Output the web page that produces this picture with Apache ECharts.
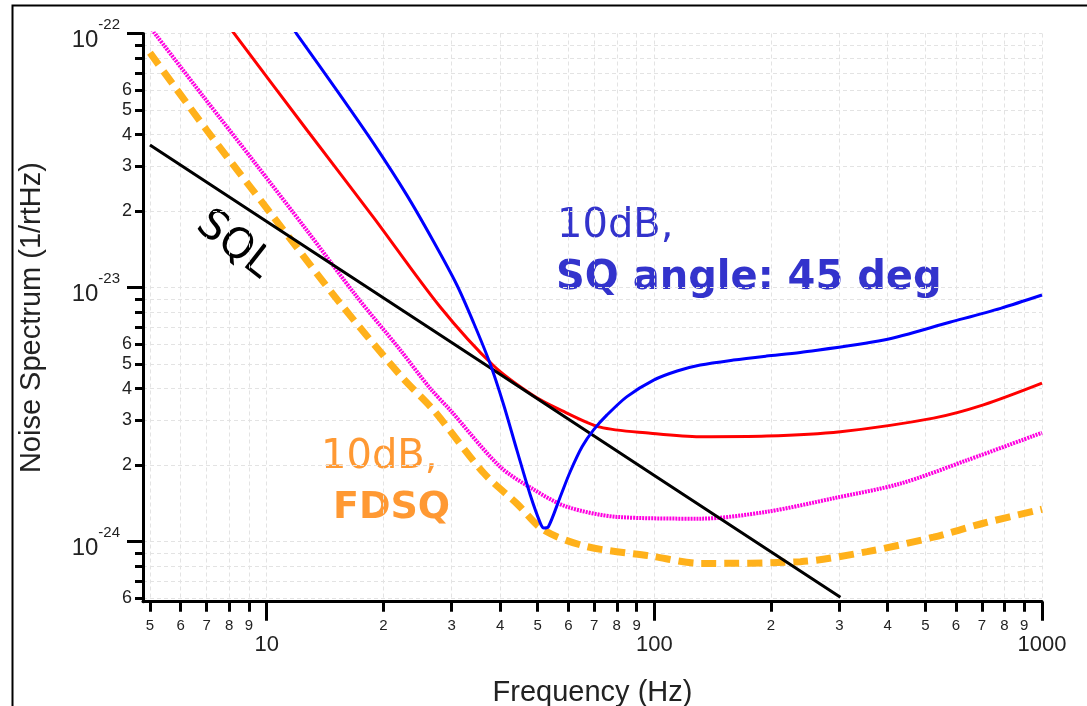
<!DOCTYPE html>
<html><head><meta charset="utf-8">
<script src="https://cdn.jsdelivr.net/npm/echarts@6/dist/echarts.min.js"></script>
<style>html,body{margin:0;padding:0;background:#fff}#c{width:1087px;height:706px}</style>
</head><body><div id="c"></div>
<script>
// ---- Data: frequency (Hz) and noise spectrum (1/rtHz) ----
const sqlFreq  = [5, 10, 30, 100, 302];
const sqlNoise = [3.64e-23, 1.82e-23, 6.07e-24, 1.82e-24, 6.03e-25];

const redFreq  = [8.0, 12.7, 18.9, 28.0, 38.5, 48.7, 57.2, 72.5, 97.7, 131, 195, 302, 525, 706, 1000];
const redNoise = [1.063e-22, 4.17e-23, 1.88e-23, 8.4e-24, 4.92e-24, 3.76e-24, 3.30e-24, 2.82e-24, 2.67e-24, 2.585e-24, 2.6e-24, 2.705e-24, 3.06e-24, 3.45e-24, 4.20e-24];

const blueFreq  = [11.5, 11.96, 15.46, 18.85, 22.99, 26.9, 30.95, 34.2, 37.73, 40.8, 44.2, 47.86, 50.8, 51.9, 53.3, 57.2, 60.7, 65.1, 69.7, 75.5, 85.0, 99.6, 114.5, 131.4, 159.9, 194.6, 238, 391, 581, 782, 1000];
const blueNoise = [1.09e-22, 9.95e-23, 5.73e-23, 3.70e-23, 2.31e-23, 1.524e-23, 1.023e-23, 7.25e-24, 5.00e-24, 3.48e-24, 2.29e-24, 1.524e-24, 1.182e-24, 1.13e-24, 1.143e-24, 1.501e-24, 1.886e-24, 2.36e-24, 2.75e-24, 3.15e-24, 3.72e-24, 4.32e-24, 4.69e-24, 4.95e-24, 5.18e-24, 5.37e-24, 5.55e-24, 6.21e-24, 7.31e-24, 8.28e-24, 9.34e-24];

const pinkFreq  = [5, 6.87, 9.35, 12.69, 17.08, 22.1, 26.4, 29.7, 40.0, 48.9, 59.5, 80.1, 131.4, 195.4, 290, 431, 641, 1000];
const pinkNoise = [1.06e-22, 5.64e-23, 3.08e-23, 1.68e-23, 9.2e-24, 5.68e-24, 4.01e-24, 3.30e-24, 1.97e-24, 1.60e-24, 1.37e-24, 1.25e-24, 1.23e-24, 1.31e-24, 1.48e-24, 1.69e-24, 2.09e-24, 2.68e-24];

const orangeFreq  = [5, 7.0, 10.4, 15.47, 22.3, 26.9, 36.3, 44.2, 51.8, 67.0, 97.7, 131.4, 238, 354, 525, 706, 1000];
const orangeNoise = [8.4e-23, 4.17e-23, 1.90e-23, 8.67e-24, 4.45e-24, 3.30e-24, 1.86e-24, 1.41e-24, 1.11e-24, 9.55e-25, 8.77e-25, 8.2e-25, 8.33e-25, 9.12e-25, 1.04e-24, 1.18e-24, 1.34e-24];

// ---- Tick values ----
const xMinorTicks = [5, 6, 7, 8, 9, 20, 30, 40, 50, 60, 70, 80, 90, 200, 300, 400, 500, 600, 700, 800, 900];
const xMajorTicks = [10, 100, 1000];
const yMinorTicks = [6e-25, 7e-25, 8e-25, 9e-25,
  2e-24, 3e-24, 4e-24, 5e-24, 6e-24, 7e-24, 8e-24, 9e-24,
  2e-23, 3e-23, 4e-23, 5e-23, 6e-23, 7e-23, 8e-23, 9e-23];
const yMinorLabelTicks = [6e-25, 2e-24, 3e-24, 4e-24, 5e-24, 6e-24, 2e-23, 3e-23, 4e-23, 5e-23, 6e-23];
const yMajorTicks = [1e-24, 1e-23, 1e-22];

const L = Math.log10;
const toPts = (fs, vs) => fs.map((f, i) => [L(f), L(vs[i])]);

const X_MIN = 0.681, X_MAX = 3, Y_MIN = -24.237, Y_MAX = -22;
const FONT = 'Liberation Sans, Arial, sans-serif';
const gridLine = { show: true, lineStyle: { color: '#e3e3e3', type: [4, 3], width: 1 } };

function mant(v) { const e = Math.floor(v + 1e-9); return Math.round(Math.pow(10, v - e)); }

const chart = echarts.init(document.getElementById('c'), null, { renderer: 'canvas' });
chart.setOption({
  animation: false,
  backgroundColor: '#fff',
  grid: { left: 143, right: 45, top: 33.5, bottom: 104.3, containLabel: false, outerBoundsMode: 'none' },
  xAxis: [
    { type: 'value', min: X_MIN, max: X_MAX, position: 'bottom',
      name: 'Frequency (Hz)', nameLocation: 'middle', nameGap: 77,
      nameTextStyle: { fontSize: 29, fontFamily: FONT, color: '#222' },
      axisLine: { show: true, onZero: false, lineStyle: { color: '#000', width: 3 } },
      axisTick: { show: true, length: 10, customValues: xMinorTicks.map(L), lineStyle: { color: '#000', width: 3 } },
      axisLabel: { show: true, customValues: xMinorTicks.map(L), margin: 17, fontSize: 15, fontFamily: FONT, color: '#222',
        formatter: v => String(mant(v)) },
      splitLine: gridLine },
    { type: 'value', min: X_MIN, max: X_MAX, position: 'bottom',
      axisLine: { show: false, onZero: false },
      axisTick: { show: true, length: 19, customValues: xMajorTicks.map(L), lineStyle: { color: '#000', width: 3 } },
      axisLabel: { show: true, customValues: xMajorTicks.map(L), margin: 32, fontSize: 22, fontFamily: FONT, color: '#222',
        formatter: v => String(Math.round(Math.pow(10, v))) },
      splitLine: gridLine }
  ],
  yAxis: [
    { type: 'value', min: Y_MIN, max: Y_MAX, position: 'left',
      name: 'Noise Spectrum (1/rtHz)', nameLocation: 'middle', nameGap: 97,
      nameTextStyle: { fontSize: 29, fontFamily: FONT, color: '#222' },
      axisLine: { show: true, onZero: false, lineStyle: { color: '#000', width: 3 } },
      axisTick: { show: true, length: 8, customValues: yMinorTicks.map(L), lineStyle: { color: '#000', width: 3 } },
      axisLabel: { show: true, customValues: yMinorLabelTicks.map(L), margin: 11, fontSize: 18, fontFamily: FONT, color: '#222',
        formatter: v => String(mant(v)) },
      splitLine: gridLine },
    { type: 'value', min: Y_MIN, max: Y_MAX, position: 'left',
      axisLine: { show: false, onZero: false },
      axisTick: { show: true, length: 16, customValues: yMajorTicks.map(L), lineStyle: { color: '#000', width: 3 } },
      axisLabel: { show: true, customValues: yMajorTicks.map(L), margin: 23,
        formatter: v => '{b|10}{s|' + Math.round(v) + '}',
        rich: {
          b: { fontSize: 24, fontFamily: FONT, color: '#222', padding: [14, 0, 0, 0], verticalAlign: 'bottom' },
          s: { fontSize: 15, fontFamily: FONT, color: '#222', padding: [3, 0, 0, 0], verticalAlign: 'top' }
        } },
      splitLine: gridLine }
  ],
  series: [
    { name: '10dB FDSQ', type: 'line', xAxisIndex: 0, yAxisIndex: 0, showSymbol: false, smooth: 0.3, clip: true,
      data: toPts(orangeFreq, orangeNoise),
      lineStyle: { color: '#ffb11b', width: 7, type: [15, 8], cap: 'butt' }, z: 2 },
    { name: 'pink', type: 'line', xAxisIndex: 0, yAxisIndex: 0, showSymbol: false, smooth: 0.3, clip: true,
      data: toPts(pinkFreq, pinkNoise),
      lineStyle: { color: '#ff00e0', width: 4, type: [2, 1], cap: 'butt' }, z: 3 },
    { name: 'red', type: 'line', xAxisIndex: 0, yAxisIndex: 0, showSymbol: false, smooth: 0.3, clip: true,
      data: toPts(redFreq, redNoise),
      lineStyle: { color: '#ff0000', width: 3 }, z: 4 },
    { name: 'SQL', type: 'line', xAxisIndex: 0, yAxisIndex: 0, showSymbol: false, smooth: false, clip: true,
      data: toPts(sqlFreq, sqlNoise),
      lineStyle: { color: '#000', width: 3 }, z: 5 },
    { name: '10dB SQ 45deg', type: 'line', xAxisIndex: 0, yAxisIndex: 0, showSymbol: false, smooth: 0.3, clip: true,
      data: toPts(blueFreq, blueNoise),
      lineStyle: { color: '#0000ff', width: 3 }, z: 6 }
  ],
  graphic: [
    { type: 'rect', shape: { x: 12.5, y: 5.5, width: 1200, height: 900 }, style: { fill: 'none', stroke: '#000', lineWidth: 2 }, silent: true },
    { type: 'text', x: 234, y: 245, rotation: -38 * Math.PI / 180,
      style: { text: 'SQL', fontSize: 42, fontFamily: 'DejaVu Sans', fill: '#000', align: 'center', verticalAlign: 'middle' } },
    { type: 'text', x: 557, y: 227,
      style: { text: '10dB,', fontSize: 40, fontFamily: 'DejaVu Sans', fill: '#3333cc', align: 'left', verticalAlign: 'middle' } },
    { type: 'text', x: 556, y: 279,
      style: { text: 'SQ angle: 45 deg', fontSize: 40, fontWeight: 'bold', fontFamily: 'DejaVu Sans', fill: '#3333cc', align: 'left', verticalAlign: 'middle' } },
    { type: 'text', x: 321, y: 458,
      style: { text: '10dB,', fontSize: 40, fontFamily: 'DejaVu Sans', fill: '#ff9933', align: 'left', verticalAlign: 'middle' } },
    { type: 'text', x: 333, y: 508,
      style: { text: 'FDSQ', fontSize: 38, fontWeight: 'bold', fontFamily: 'DejaVu Sans', fill: '#ff9933', align: 'left', verticalAlign: 'middle' } }
  ]
});
</script></body></html>
